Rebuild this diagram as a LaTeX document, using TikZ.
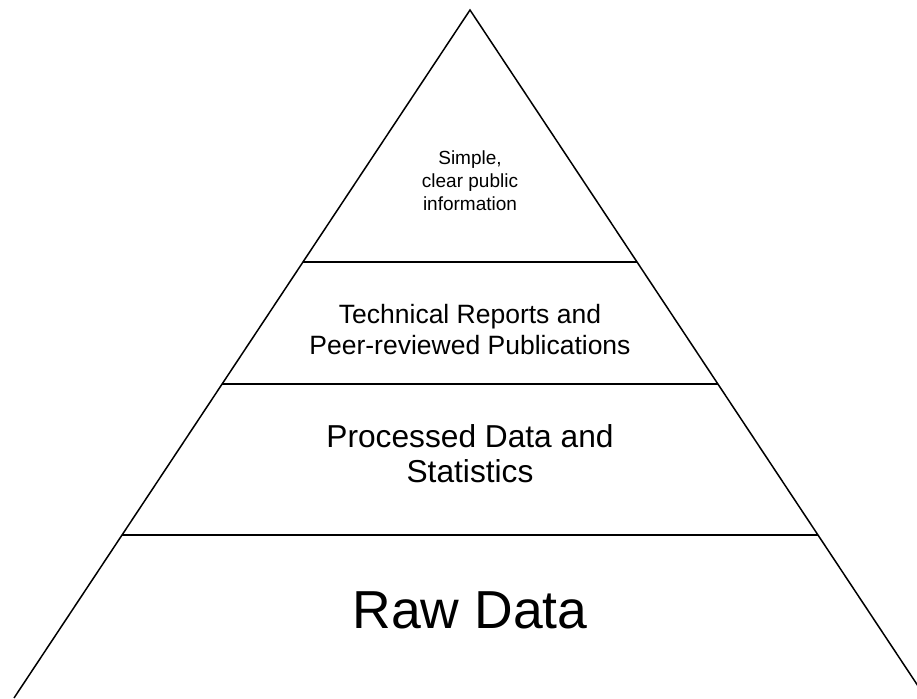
\documentclass[tikz,border=0pt]{standalone}
\usepackage{fontspec}
\setmainfont{Liberation Sans}
\usetikzlibrary{calc}

\begin{document}
\begin{tikzpicture}[
  x=1pt, y=-1pt,
  every node/.style={align=center, inner sep=0pt},
  edge/.style={draw=black, line width=1.5pt},
  label1/.style={font=\fontsize{19}{23}\selectfont},
  label2/.style={font=\fontsize{26.5}{31}\selectfont},
  label3/.style={font=\fontsize{31.7}{35}\selectfont},
  label4/.style={font=\fontsize{53.5}{60}\selectfont},
]
\useasboundingbox (0,0) rectangle (917,698);
\clip (0,0) rectangle (917,698);

% === PYRAMID OUTLINE ===
\coordinate (apex) at (470,10);
\coordinate (baseL) at (14,698);
\coordinate (baseR) at (926,698);
\draw[edge, line join=miter] (baseL) -- (apex) -- (baseR);

% === LAYER BOUNDARIES ===
\coordinate (cutAL) at ($(apex)!0.3663!(baseL)$);
\coordinate (cutAR) at ($(apex)!0.3663!(baseR)$);
\coordinate (cutBL) at ($(apex)!0.5436!(baseL)$);
\coordinate (cutBR) at ($(apex)!0.5436!(baseR)$);
\coordinate (cutCL) at ($(apex)!0.7631!(baseL)$);
\coordinate (cutCR) at ($(apex)!0.7631!(baseR)$);
\draw[edge] (cutAL) -- (cutAR);
\draw[edge] (cutBL) -- (cutBR);
\draw[edge] (cutCL) -- (cutCR);

% === LAYER TEXTS ===
\node[label1] (public) at (470,181) {Simple,\\clear public\\information};
\node[label2] (reports) at (470,330) {Technical Reports and\\Peer-reviewed Publications};
\node[label3] (processed) at (470,454) {Processed Data and\\Statistics};
\node[label4] (raw) at (470,610) {Raw Data};

\end{tikzpicture}
\end{document}
